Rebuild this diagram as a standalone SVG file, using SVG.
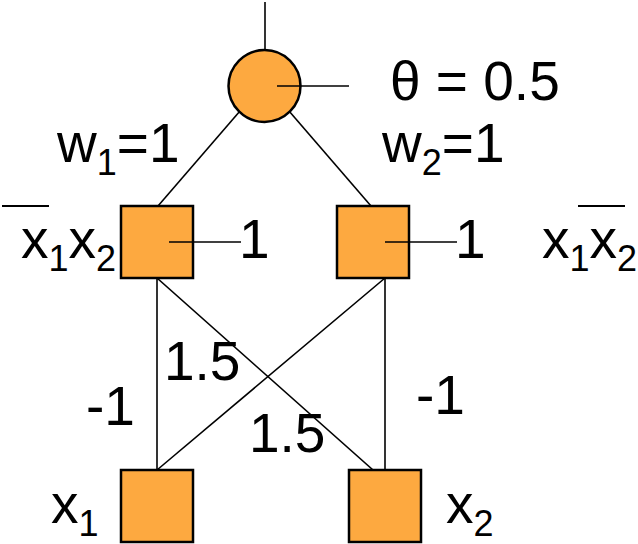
<svg xmlns="http://www.w3.org/2000/svg" width="638" height="544" viewBox="0 0 638 544">
<style>
.n{fill:#FDA940;stroke:#000;stroke-width:2.5}
.c line{stroke:#000;stroke-width:1.6}
text{font-family:"Liberation Sans",Arial,sans-serif;font-size:55px;fill:#000}
.s{font-size:36px}
.bar{stroke:#000;stroke-width:1.8}
</style>
<rect width="638" height="544" fill="#fff"/>
<g class="c" id="connectors">
<line x1="265" y1="2" x2="265" y2="50"/>
<line x1="240" y1="111" x2="158" y2="206"/>
<line x1="289" y1="111" x2="371" y2="206"/>
<line x1="157" y1="278" x2="157" y2="470"/>
<line x1="157" y1="278" x2="373" y2="470"/>
<line x1="385" y1="278" x2="385" y2="470"/>
<line x1="385" y1="278" x2="157" y2="470"/>
</g>
<g id="output">
<circle class="n" cx="264.5" cy="86" r="36"/>
<line x1="277" y1="86" x2="349" y2="86" stroke="#000" stroke-width="1.6"/>
<text x="390" y="100">θ = 0.5</text>
</g>
<g id="hidden1">
<rect class="n" x="121" y="206" width="72" height="72"/>
<line x1="169" y1="242" x2="241" y2="242" stroke="#000" stroke-width="1.6"/>
<text x="239" y="258">1</text>
</g>
<g id="hidden2">
<rect class="n" x="337" y="206" width="72" height="72"/>
<line x1="385" y1="242" x2="457" y2="242" stroke="#000" stroke-width="1.6"/>
<text x="455" y="258">1</text>
</g>
<g id="input1">
<rect class="n" x="121" y="470" width="72" height="72"/>
</g>
<g id="input2">
<rect class="n" x="349" y="470" width="72" height="72"/>
</g>
<g id="labels">
<text x="57" y="162">w<tspan class="s" dy="13">1</tspan><tspan dy="-13">=1</tspan></text>
<text x="382" y="162">w<tspan class="s" dy="13">2</tspan><tspan dy="-13">=1</tspan></text>
<text x="21" y="258">x<tspan class="s" dy="13">1</tspan><tspan dy="-13">x</tspan><tspan class="s" dy="13">2</tspan></text>
<line class="bar" x1="2" y1="206" x2="49" y2="206"/>
<text x="542" y="258">x<tspan class="s" dy="13">1</tspan><tspan dy="-13">x</tspan><tspan class="s" dy="13">2</tspan></text>
<line class="bar" x1="578" y1="206" x2="625" y2="206"/>
<text x="164" y="380">1.5</text>
<text x="249" y="452">1.5</text>
<text x="86" y="425">-1</text>
<text x="416" y="414">-1</text>
<text x="51" y="523">x<tspan class="s" dy="13">1</tspan></text>
<text x="446" y="523">x<tspan class="s" dy="13">2</tspan></text>
</g>
</svg>
